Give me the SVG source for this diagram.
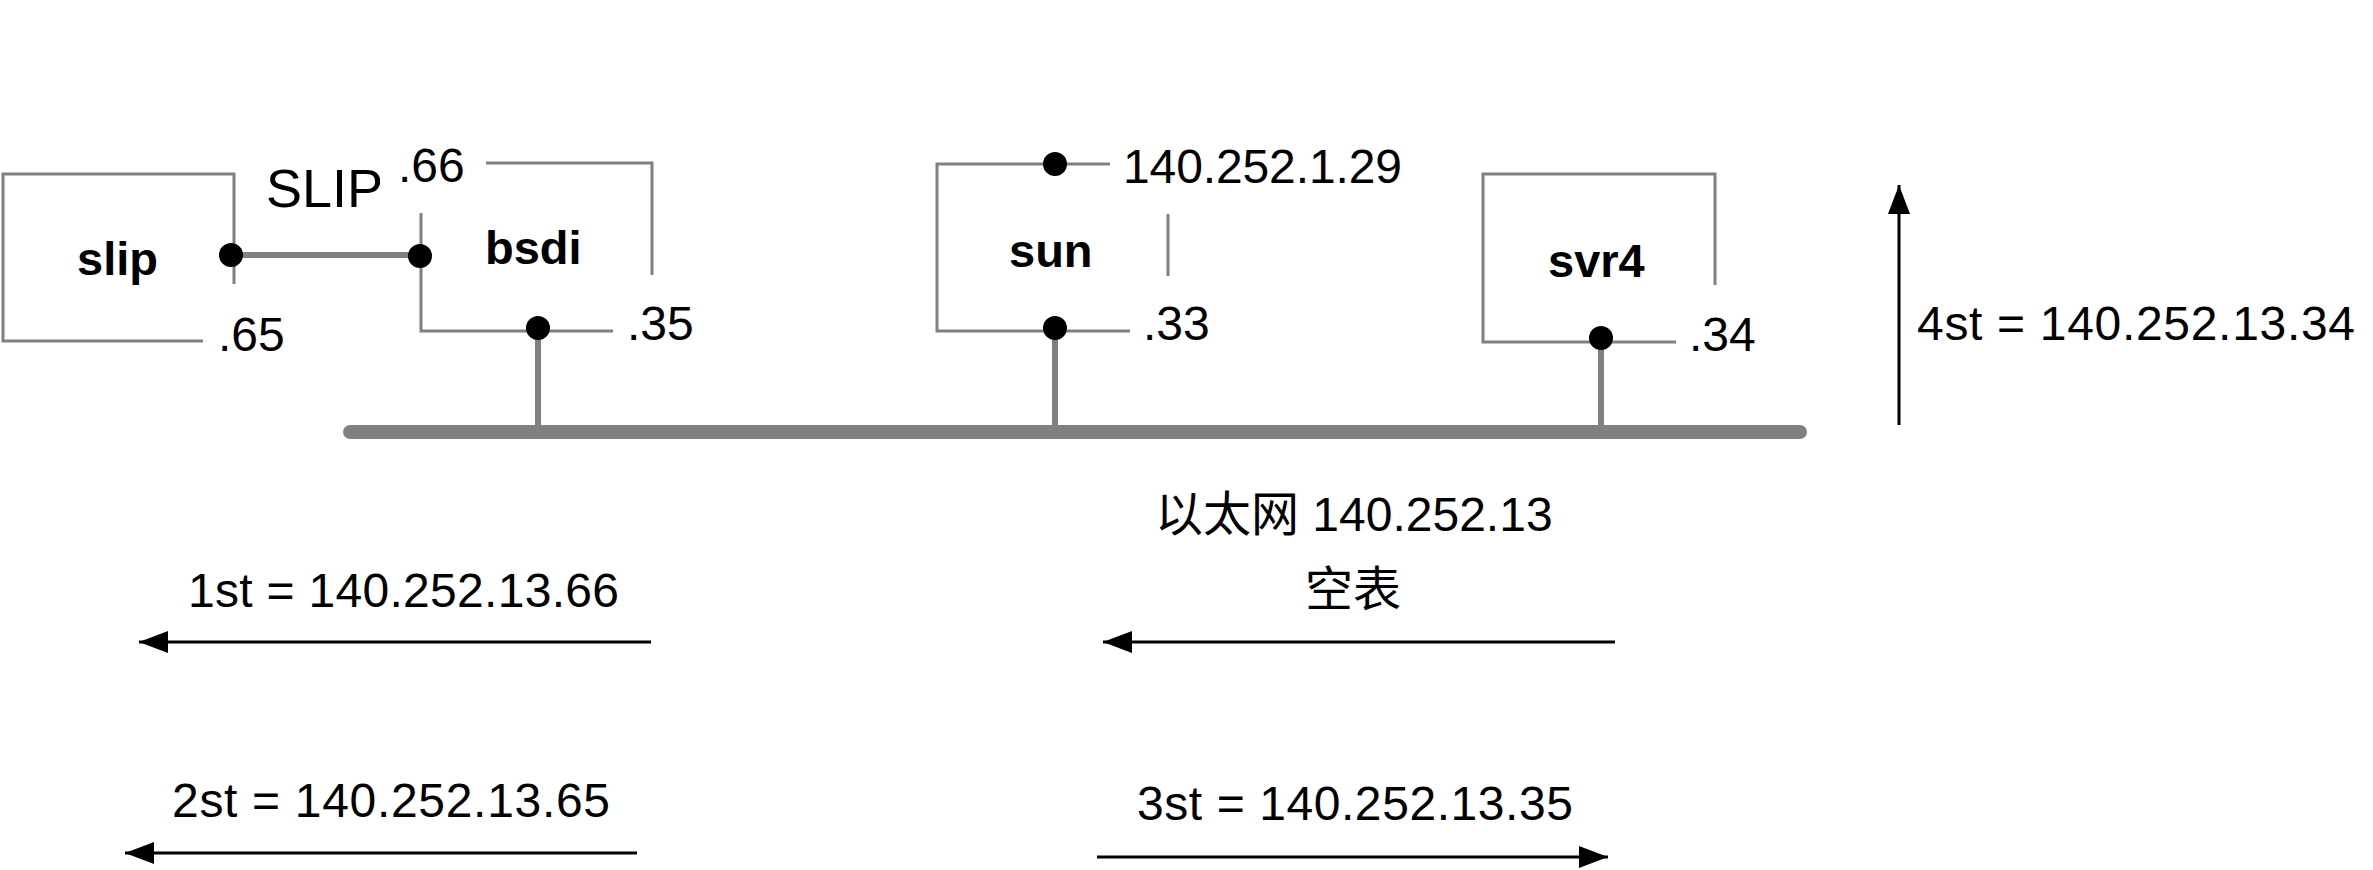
<svg xmlns="http://www.w3.org/2000/svg" width="2373" height="870" viewBox="0 0 2373 870">
<style>
.box{fill:none;stroke:#808080;stroke-width:3}
.dot{fill:#000}
.lbl{font-family:"Liberation Sans",Arial,sans-serif;font-size:48px;fill:#000}
.cjk{font-family:"Liberation Sans","Noto Sans CJK SC",sans-serif;font-size:48px;fill:#000}
.name{font-family:"Liberation Sans",Arial,sans-serif;font-size:47px;font-weight:bold;fill:#000}
.wire{stroke:#808080;fill:none}
.arr{stroke:#000;stroke-width:3;fill:none;marker-end:url(#ah)}
</style>
<defs>
<marker id="ah" markerUnits="userSpaceOnUse" markerWidth="30" markerHeight="24" refX="29" refY="11" orient="auto">
<path d="M0,0 L29,11 L0,22 z" fill="#000"/>
</marker>
</defs>
<rect width="2373" height="870" fill="#fff"/>
<g id="connectors">
<line class="wire" x1="350" y1="432" x2="1800" y2="432" stroke-width="14" stroke-linecap="round"/>
<line class="wire" x1="231" y1="255" x2="420" y2="255" stroke-width="6"/>
<line class="wire" x1="538" y1="328" x2="538" y2="432" stroke-width="6"/>
<line class="wire" x1="1055" y1="328" x2="1055" y2="432" stroke-width="6"/>
<line class="wire" x1="1601" y1="338" x2="1601" y2="432" stroke-width="6"/>
<line class="arr" x1="651" y1="642" x2="139" y2="642"/>
<line class="arr" x1="637" y1="853" x2="125" y2="853"/>
<line class="arr" x1="1615" y1="642" x2="1103" y2="642"/>
<line class="arr" x1="1097" y1="857" x2="1608" y2="857"/>
<line class="arr" x1="1899" y1="425" x2="1899" y2="185"/>
</g>
<g id="slip">
<path class="box" d="M234,284 V174 H3 V341 H203"/>
<circle class="dot" cx="231" cy="255" r="12"/>
<text class="name" x="77" y="275">slip</text>
<text class="lbl" x="218" y="351">.65</text>
</g>
<g id="slip-link-label">
<text class="lbl" x="266" y="207" style="font-size:54px">SLIP</text>
</g>
<g id="bsdi">
<path class="box" d="M652,275 V163 H486 M421,213 V331 H613"/>
<circle class="dot" cx="420" cy="256" r="12"/>
<circle class="dot" cx="538" cy="328" r="12"/>
<text class="name" x="485" y="264">bsdi</text>
<text class="lbl" x="398" y="182">.66</text>
<text class="lbl" x="627" y="340">.35</text>
</g>
<g id="sun">
<path class="box" d="M1110,164 H937 V331 H1130 M1168,214 V276"/>
<circle class="dot" cx="1055" cy="164" r="12"/>
<circle class="dot" cx="1055" cy="328" r="12"/>
<text class="name" x="1009" y="267">sun</text>
<text class="lbl" x="1123" y="183" textLength="279">140.252.1.29</text>
<text class="lbl" x="1143" y="340">.33</text>
</g>
<g id="svr4">
<path class="box" d="M1715,285 V174 H1483 V342 H1676"/>
<circle class="dot" cx="1601" cy="338" r="12"/>
<text class="name" x="1548" y="277">svr4</text>
<text class="lbl" x="1689" y="351">.34</text>
</g>
<g id="labels">
<text class="cjk" x="1155" y="531">以太网 140.252.13</text>
<text class="cjk" x="1305" y="606">空表</text>
<text class="lbl" x="188" y="607" textLength="431">1st = 140.252.13.66</text>
<text class="lbl" x="172" y="817" textLength="438">2st = 140.252.13.65</text>
<text class="lbl" x="1137" y="820" textLength="436">3st = 140.252.13.35</text>
<text class="lbl" x="1917" y="340" textLength="438">4st = 140.252.13.34</text>
</g>
</svg>
